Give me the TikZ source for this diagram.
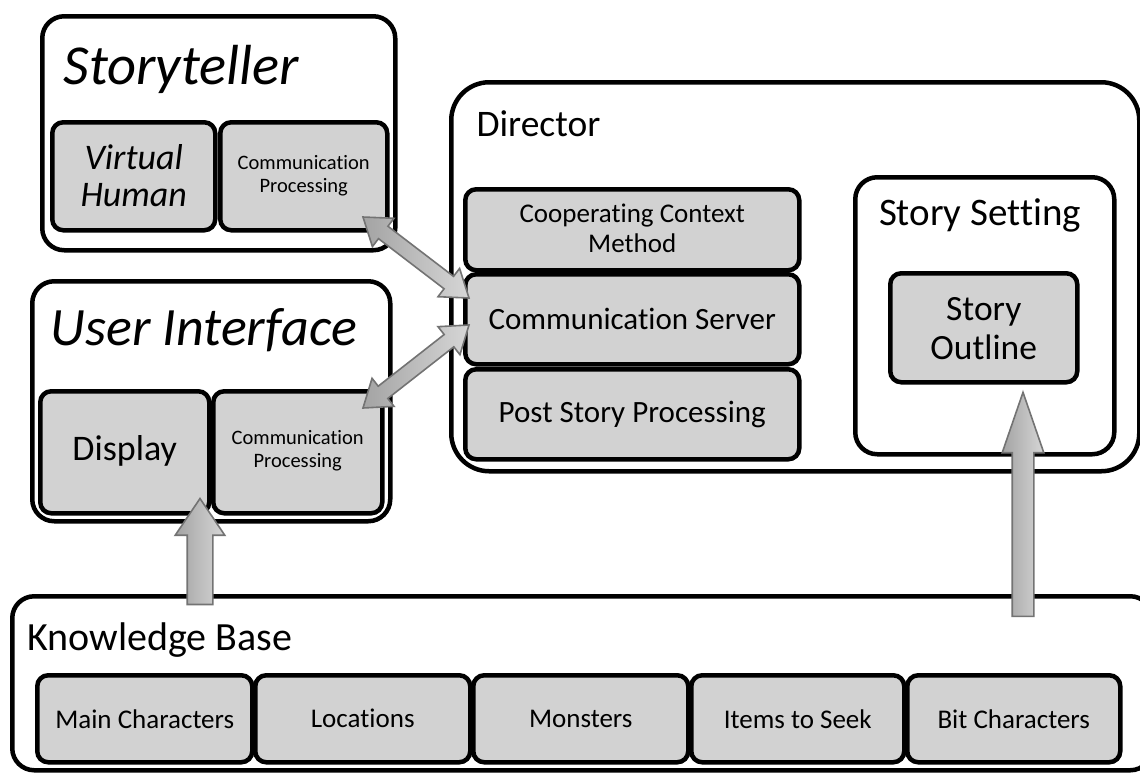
\documentclass[tikz,border=0pt]{standalone}
\usepackage{fontspec}
\setmainfont{Carlito}[Ligatures={NoCommon,NoContextual}]
\usetikzlibrary{shapes.arrows,calc,shadows}
\tikzset{
  outerbox/.style={draw=black, line width=4.5pt, rounded corners=22pt, fill=white, anchor=north west, inner sep=0pt},
  innerbox/.style={draw=black, line width=4.5pt, rounded corners=11pt, fill=gray!35, anchor=north west, inner sep=0pt, align=center},
  fatarrow/.style={draw=gray!110, line width=1.6pt, left color=gray!72, right color=gray!32, inner sep=0pt, outer sep=0pt},
}
\begin{document}
\begin{tikzpicture}[x=1pt,y=-1pt]
\useasboundingbox (0,0) rectangle (1140,772);
% Storyteller
\node[outerbox, minimum width=353, minimum height=234] (st) at (40,14) {};
\node[font=\itshape\fontsize{56.5}{64}\selectfont, anchor=base west] (stt) at (60,84) {Storyteller};
\node[innerbox, minimum width=163, minimum height=108] (vh) at (50,120) {};
\node[font=\itshape\fontsize{36}{37}\selectfont, align=center] (vht) at ($(vh.center)+(0,-1)$) {Virtual\\Human};
\node[innerbox, minimum width=167, minimum height=108] (scp) at (218,120) {};
\node[font=\fontsize{20.5}{23}\selectfont, align=center] (scpt) at ($(scp.center)+(0,-1)$) {Communication\\Processing};
% User interface
\node[outerbox, minimum width=358, minimum height=240] (ui) at (30,279) {};
\node[font=\itshape\fontsize{54}{60}\selectfont, anchor=base west] (uit) at (47,345) {User Interface};
\node[innerbox, minimum width=169, minimum height=122] (disp) at (38,389) {};
\node[font=\fontsize{36}{40}\selectfont] (dispt) at ($(disp.center)+(0,-1)$) {Display};
\node[innerbox, minimum width=169, minimum height=122] (ucp) at (211,389) {};
\node[font=\fontsize{20.5}{23}\selectfont, align=center] (ucpt) at ($(ucp.center)+(0,-2)$) {Communication\\Processing};
% Director
\node[outerbox, rounded corners=38pt, minimum width=688, minimum height=389] (dir) at (449,80) {};
\node[font=\fontsize{37.5}{44}\selectfont, anchor=base west] (dirt) at (473,136) {Director};
\node[innerbox, minimum width=334, minimum height=81] (ccm) at (463,187) {};
\node[font=\fontsize{27}{30}\selectfont, align=center] (ccmt) at ($(ccm.center)+(0,-1)$) {Cooperating Context\\Method};
\node[innerbox, minimum width=334, minimum height=90] (cs) at (463,272) {};
\node[font=\fontsize{31}{36}\selectfont] (cst) at (cs.center) {Communication Server};
\node[innerbox, minimum width=334, minimum height=90] (psp) at (463,367) {};
\node[font=\fontsize{31}{36}\selectfont] (pspt) at (psp.center) {Post Story Processing};
% Story setting
\node[outerbox, minimum width=259, minimum height=277] (ss) at (853,175) {};
\node[font=\fontsize{39}{46}\selectfont, anchor=base] (sst) at (980,225) {Story Setting};
\node[innerbox, minimum width=187, minimum height=109] (so) at (888,271) {};
\node[font=\fontsize{35.5}{39}\selectfont, align=center] (sot) at ($(so.center)+(0,1)$) {Story\\Outline};
% Knowledge base
\node[outerbox, minimum width=1140, minimum height=174] (kb) at (10,594) {};
\node[font=\fontsize{40}{46}\selectfont, anchor=base west] (kbt) at (24,650) {Knowledge Base};
\node[innerbox, minimum width=215, minimum height=87] (k1) at (35,673) {};
\node[innerbox, minimum width=215, minimum height=87] (k2) at (253,673) {};
\node[innerbox, minimum width=215, minimum height=87] (k3) at (471,673) {};
\node[innerbox, minimum width=213, minimum height=87] (k4) at (689,673) {};
\node[innerbox, minimum width=213, minimum height=87] (k5) at (905,673) {};
\node[font=\fontsize{27}{30}\selectfont] (k1t) at (k1.center) {Main Characters};
\node[font=\fontsize{27}{30}\selectfont] (k2t) at (k2.center) {Locations};
\node[font=\fontsize{27}{30}\selectfont] (k3t) at (k3.center) {Monsters};
\node[font=\fontsize{27}{30}\selectfont] (k4t) at (k4.center) {Items to Seek};
\node[font=\fontsize{27}{30}\selectfont] (k5t) at (k5.center) {Bit Characters};
% arrow endpoints
\coordinate (a1s) at (363,217);
\coordinate (a1e) at (469,298);
\coordinate (a2s) at (363,408);
\coordinate (a2e) at (469,325);
\coordinate (u1s) at (200,614);
\coordinate (u1e) at (200,508);
\coordinate (u2s) at (1023,632);
\coordinate (u2e) at (1023,408);
% double arrows
\path let \p1=(a1s), \p2=(a1e), \n1={atan2(\y2-\y1,\x2-\x1)}, \n2={veclen(\x2-\x1,\y2-\y1)} in
  node[fatarrow, double arrow, rotate=\n1, minimum height=\n2, minimum width=0pt, inner ysep=7pt, double arrow head extend=10pt, double arrow tip angle=70] (arr1) at ($(a1s)!0.5!(a1e)$) {};
\path let \p1=(a2s), \p2=(a2e), \n1={atan2(\y2-\y1,\x2-\x1)}, \n2={veclen(\x2-\x1,\y2-\y1)} in
  node[fatarrow, double arrow, rotate=\n1, minimum height=\n2, minimum width=0pt, inner ysep=7pt, double arrow head extend=10pt, double arrow tip angle=70] (arr2) at ($(a2s)!0.5!(a2e)$) {};
% single up arrows
\path let \p1=(u1s), \p2=(u1e), \n2={veclen(\x2-\x1,\y2-\y1)} in
  node[fatarrow, single arrow, rotate=90, minimum height=\n2, minimum width=0pt, inner ysep=12pt, single arrow head extend=12pt, single arrow tip angle=68] (arr3) at ($(u1s)!0.5!(u1e)$) {};
\path let \p1=(u2s), \p2=(u2e), \n2={veclen(\x2-\x1,\y2-\y1)} in
  node[fatarrow, single arrow, rotate=90, minimum height=\n2, minimum width=0pt, inner ysep=10pt, single arrow head extend=10pt, single arrow tip angle=38] (arr4) at ($(u2s)!0.5!(u2e)$) {};
\end{tikzpicture}
\end{document}
